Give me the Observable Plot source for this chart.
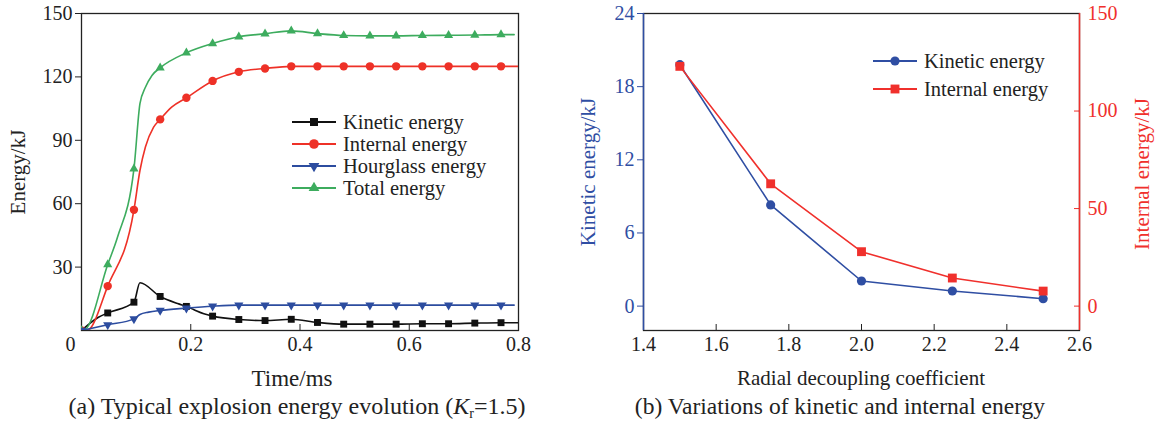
<!DOCTYPE html>
<html><head><meta charset="utf-8">
<script src="https://cdn.jsdelivr.net/npm/d3@7"></script>
<script src="https://cdn.jsdelivr.net/npm/@observablehq/plot@0.6"></script>
<style>
body{margin:0;background:#fff;font-family:"Liberation Serif","Times New Roman",serif;color:#222;}
#wrap{position:relative;width:1157px;height:424px;overflow:hidden;}
.panel{position:absolute;top:0;}
.txt{position:absolute;white-space:nowrap;transform:translate(-50%,-50%);line-height:1;}
.rot{transform:translate(-50%,-50%) rotate(-90deg);}
.lrow{position:absolute;display:flex;align-items:center;height:20px;font-size:20.5px;line-height:20px;white-space:nowrap;}
.lrow svg{margin-right:7px;}
.lrow span{display:inline-block;height:20px;line-height:20px;overflow:visible;}
</style></head><body><div id="wrap"></div>
<script>
// ---------- Panel (a): energy evolution, Kr = 1.5 ----------
const timeMarks = [0, 0.048, 0.096, 0.144, 0.192, 0.240, 0.288, 0.336, 0.384, 0.432, 0.480, 0.528, 0.576, 0.624, 0.672, 0.720, 0.768];
const kineticA   = [0, 8.3, 13.4, 16.1, 11.4, 6.8, 5.2, 4.7, 5.3, 3.8, 3.0, 3.0, 3.0, 3.2, 3.2, 3.5, 3.7];
const internalA  = [0, 21.0, 57.1, 99.9, 110.1, 118.1, 122.4, 124.0, 125.0, 125.0, 125.0, 125.0, 125.0, 125.0, 125.0, 125.0, 125.0];
const hourglassA = [0, 2.7, 5.5, 9.5, 10.6, 11.5, 12.0, 12.0, 12.0, 12.0, 12.0, 12.0, 12.0, 12.0, 12.0, 12.0, 12.0];
const totalA     = [0, 31.2, 76.5, 124.3, 131.4, 135.8, 139.0, 140.4, 141.8, 140.5, 139.6, 139.4, 139.4, 139.6, 139.7, 139.8, 140.0];
// extra curve points read between markers: [time, value]
const kineticExtra   = [[0.031, 6.3], [0.107, 22.6], [0.178, 12.6], [0.206, 9.8], [0.224, 7.9], [0.8, 3.7]];
const internalExtra  = [[0.010, 0], [0.107, 75.7], [0.117, 86.8], [0.132, 96.2], [0.165, 105.7], [0.8, 125.0]];
const hourglassExtra = [[0.107, 7.6], [0.123, 8.7], [0.792, 12.0]];
const totalExtra     = [[0.007, 0.5], [0.066, 44.2], [0.107, 107.3], [0.117, 115.1], [0.129, 120.7], [0.792, 140.0]];
const xTicksA = [0.2, 0.4, 0.6, 0.8];
const xOriginA = [0];
const yTicksA = [30, 60, 90, 120, 150];

// ---------- Panel (b): kinetic / internal energy vs coefficient ----------
const coeffB = [1.5, 1.75, 2.0, 2.25, 2.5];
const kineticB = [19.8, 8.3, 2.06, 1.24, 0.61];
const internalB = [122.9, 62.7, 27.9, 14.4, 7.7];
const xTicksB = [1.4, 1.6, 1.8, 2.0, 2.2, 2.4, 2.6];
const kTicksB = [0, 6, 12, 18, 24];
const iTicksB = [0, 50, 100, 150];
const ratioB = 6.25; // internal-axis units per kinetic-axis unit

const C = {black:"#111", red:"#ee3127", blue:"#2c4c9f", green:"#3dac5e", axis:"#222",
           bBlue:"#2f4ea3", bRed:"#f0302c"};

const seriesA = [
  {name:"Kinetic energy", vals:kineticA, extra:kineticExtra, color:C.black, symbol:"square", r:3.9, rotate:0},
  {name:"Internal energy", vals:internalA, extra:internalExtra, color:C.red, symbol:"circle", r:4.2, rotate:0},
  {name:"Hourglass energy", vals:hourglassA, extra:hourglassExtra, color:C.blue, symbol:"triangle", r:3.4, rotate:180},
  {name:"Total energy", vals:totalA, extra:totalExtra, color:C.green, symbol:"triangle", r:3.4, rotate:0}
];
function markerRows(s){ return timeMarks.map((t,i)=>({t, v:s.vals[i]})); }
function lineRows(s){
  const rows = markerRows(s).concat(s.extra.map(([t,v])=>({t,v})));
  return rows.sort((a,b)=>a.t-b.t);
}
const drawOrder = [0,1,3,2];
const marksA = [
  Plot.axisY({ticks:yTicksA, tickSize:6, tickPadding:3, label:null, color:C.axis}),
  Plot.axisX({ticks:xTicksA, tickSize:6, dy:-6, tickFormat:()=>"", label:null, color:C.axis}),
  Plot.axisX({ticks:xTicksA, tickSize:0, tickPadding:6, tickFormat:d3.format(".1f"), label:null, color:C.axis}),
  Plot.axisX({ticks:xOriginA, tickSize:0, tickPadding:6, dx:-11, tickFormat:d=>String(d), label:null, color:C.axis}),
  Plot.frame({stroke:C.axis, strokeWidth:1.3})
];
for (const i of drawOrder){
  const s = seriesA[i];
  marksA.push(Plot.line(lineRows(s), {x:"t", y:"v", stroke:s.color, strokeWidth:1.6, curve:"monotone-x", clip:true}));
  marksA.push(Plot.dot(markerRows(s), {x:"t", y:"v", fill:s.color, stroke:"none", symbol:s.symbol, r:s.r, rotate:s.rotate, clip:true}));
}
const plotA = Plot.plot({
  width:560, height:390, marginLeft:81, marginRight:42, marginTop:13, marginBottom:60,
  style:{fontFamily:'"Liberation Serif","Times New Roman",serif', fontSize:"20px", background:"transparent", overflow:"visible"},
  x:{domain:[0,0.8]}, y:{domain:[0,150]},
  marks:marksA
});

const rowsB = coeffB.map((c,i)=>({c, k:kineticB[i], ie:internalB[i]}));
const xDomainB = [1.4, 2.6];
const plotB = Plot.plot({
  width:597, height:390, marginLeft:83, marginRight:78, marginTop:13, marginBottom:60,
  style:{fontFamily:'"Liberation Serif","Times New Roman",serif', fontSize:"20px", background:"transparent", overflow:"visible"},
  x:{domain:xDomainB}, y:{domain:[-2,24]},
  marks:[
    Plot.axisY({ticks:kTicksB, tickSize:6, tickPadding:3, label:null, color:C.bBlue}),
    Plot.axisY({anchor:"right", ticks:iTicksB.map(v=>v/ratioB), tickSize:6, dx:-6, tickFormat:()=>"", label:null, color:C.bRed}),
    Plot.axisY({anchor:"right", ticks:iTicksB.map(v=>v/ratioB), tickSize:0, tickPadding:8, tickFormat:d=>String(Math.round(d*ratioB)), label:null, color:C.bRed}),
    Plot.axisX({ticks:xTicksB, tickSize:6, dy:-6, tickFormat:()=>"", label:null, color:C.axis}),
    Plot.axisX({ticks:xTicksB, tickSize:0, tickPadding:6, tickFormat:d3.format(".1f"), label:null, color:C.axis}),
    Plot.frame({stroke:C.axis, strokeWidth:1.3}),
    Plot.ruleX([xDomainB[0]], {stroke:C.bBlue, strokeWidth:1.5}),
    Plot.ruleX([xDomainB[1]], {stroke:C.bRed, strokeWidth:1.5}),
    Plot.line(rowsB, {x:"c", y:"k", stroke:C.bBlue, strokeWidth:1.6}),
    Plot.dot(rowsB, {x:"c", y:"k", fill:C.bBlue, stroke:"none", symbol:"circle", r:4.6}),
    Plot.line(rowsB, {x:"c", y:d=>d.ie/ratioB, stroke:C.bRed, strokeWidth:1.6}),
    Plot.dot(rowsB, {x:"c", y:d=>d.ie/ratioB, fill:C.bRed, stroke:"none", symbol:"square", r:5.0})
  ]
});

const wrap = document.getElementById("wrap");
const pa = document.createElement("div"); pa.className="panel"; pa.style.left="0px"; pa.appendChild(plotA); wrap.appendChild(pa);
const pb = document.createElement("div"); pb.className="panel"; pb.style.left="560px"; pb.appendChild(plotB); wrap.appendChild(pb);

function addText(html, x, y, size, color, rot){
  const d = document.createElement("div");
  d.className = "txt" + (rot ? " rot" : "");
  d.style.left = x+"px"; d.style.top = y+"px"; d.style.fontSize = size+"px"; d.style.color = color || "#222";
  d.innerHTML = html; wrap.appendChild(d);
}
addText("Energy/kJ", 18, 172, 21, "#222", true);
addText("Time/ms", 292, 378, 23);
addText('(a) Typical explosion energy evolution (<i>K</i><sub style="font-size:14px;vertical-align:-4px">r</sub>=1.5)', 297, 407, 24);
addText("Kinetic energy/kJ", 588, 172, 21, C.bBlue, true);
addText("Internal energy/kJ", 1142, 174, 21, C.bRed, true);
addText("Radial decoupling coefficient", 861, 378, 21);
addText("(b) Variations of kinetic and internal energy", 840, 407, 23.5);

function symbolSvg(color, symbol, rotate, size){
  const svgNS="http://www.w3.org/2000/svg";
  const svg=document.createElementNS(svgNS,"svg");
  svg.setAttribute("width",44); svg.setAttribute("height",20);
  const ln=document.createElementNS(svgNS,"line");
  ln.setAttribute("x1",0); ln.setAttribute("x2",44); ln.setAttribute("y1",10); ln.setAttribute("y2",10);
  ln.setAttribute("stroke",color); ln.setAttribute("stroke-width",1.8); svg.appendChild(ln);
  const p=document.createElementNS(svgNS,"path");
  p.setAttribute("d", d3.symbol(symbol==="square"?d3.symbolSquare:symbol==="circle"?d3.symbolCircle:d3.symbolTriangle, Math.PI*size*size)());
  p.setAttribute("transform",`translate(22,10) rotate(${rotate})`);
  p.setAttribute("fill",color); svg.appendChild(p);
  return svg;
}
function addLegendRow(item, x, cy){
  const row=document.createElement("div"); row.className="lrow";
  row.style.left=x+"px"; row.style.top=(cy-10)+"px";
  row.appendChild(symbolSvg(item.color,item.symbol,item.rotate,item.r));
  const s=document.createElement("span"); s.textContent=item.name; row.appendChild(s);
  wrap.appendChild(row);
}
const legendYA=[122,144,166,188];
seriesA.forEach((s,i)=>addLegendRow({...s, r:s.r+0.6}, 292, legendYA[i]));
const legendB=[
  {name:"Kinetic energy", color:C.bBlue, symbol:"circle", rotate:0, r:4.6},
  {name:"Internal energy", color:C.bRed, symbol:"square", rotate:0, r:5.0}
];
const legendYB=[61,89];
legendB.forEach((s,i)=>addLegendRow(s, 873, legendYB[i]));
</script></body></html>
